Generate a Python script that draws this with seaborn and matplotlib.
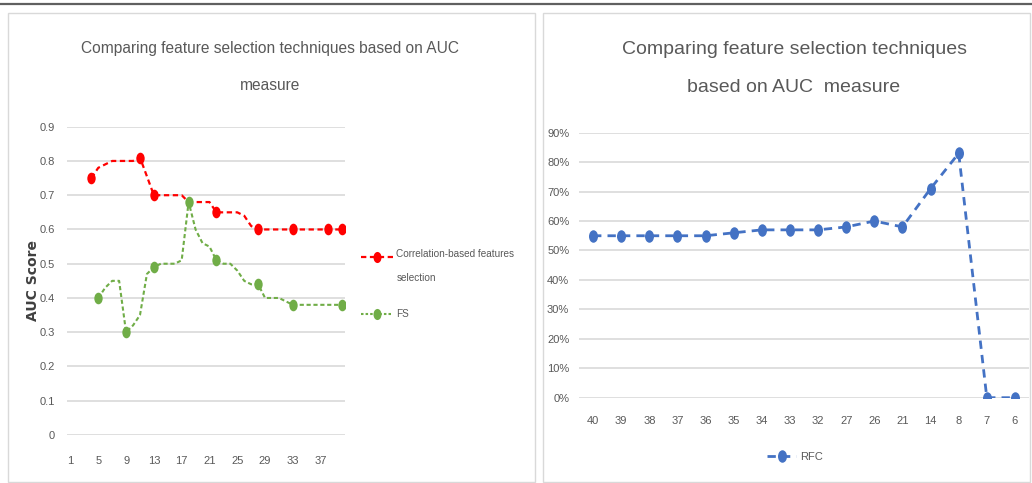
import matplotlib
matplotlib.use("Agg")
import matplotlib.pyplot as plt
from matplotlib.patches import Rectangle
from matplotlib.lines import Line2D
from matplotlib.path import Path
from matplotlib.legend_handler import HandlerLine2D
from matplotlib.ticker import PercentFormatter, FixedLocator
import numpy as np
import pandas as pd
import seaborn as sns

# ---------------- data ----------------
# Left chart: AUC per number of selected features (category axis 1..40)
left_categories = list(range(1, 41))
left_tick_labels = [str(c) for c in range(1, 41, 4)]

cfs_features = list(range(4, 41))
cfs_auc = [0.75, 0.78, 0.79, 0.80, 0.80, 0.80, 0.80, 0.81, 0.755, 0.70,
           0.70, 0.70, 0.70, 0.70, 0.68, 0.68, 0.68, 0.68, 0.65, 0.65,
           0.65, 0.65, 0.64, 0.61, 0.60, 0.60, 0.60, 0.60, 0.60, 0.60,
           0.60, 0.60, 0.60, 0.60, 0.60, 0.60, 0.60]
cfs_marked = [4, 11, 13, 22, 28, 33, 38, 40]

fs_features = list(range(5, 41))
fs_auc = [0.40, 0.43, 0.45, 0.45, 0.30, 0.32, 0.35, 0.47, 0.49, 0.50,
          0.50, 0.50, 0.51, 0.68, 0.60, 0.56, 0.55, 0.51, 0.50, 0.50,
          0.48, 0.45, 0.44, 0.44, 0.40, 0.40, 0.40, 0.39, 0.38, 0.38,
          0.38, 0.38, 0.38, 0.38, 0.38, 0.38]
fs_marked = [5, 9, 13, 18, 22, 28, 33, 40]

left_yticks = [0, 0.1, 0.2, 0.3, 0.4, 0.5, 0.6, 0.7, 0.8, 0.9]

# Right chart: RFC AUC by number of features kept
rfc_features = ["40", "39", "38", "37", "36", "35", "34", "33",
                "32", "27", "26", "21", "14", "8", "7", "6"]
rfc_auc = [0.55, 0.55, 0.55, 0.55, 0.55, 0.56, 0.57, 0.57,
           0.57, 0.58, 0.60, 0.58, 0.71, 0.83, 0.00, 0.00]
right_yticks = [0, 0.1, 0.2, 0.3, 0.4, 0.5, 0.6, 0.7, 0.8, 0.9]

# ---------------- style ----------------
sns.set_theme(style="white")
plt.rcParams["font.family"] = ["Liberation Sans Narrow", "Liberation Sans", "DejaVu Sans"]

TEXT = "#595959"
GRID = "#D9D9D9"
RED = "#FF0000"
GREEN = "#70AD47"
BLUE = "#4472C4"

W, H = 1032, 483
fig = plt.figure(figsize=(W / 100, H / 100), dpi=100)
fig.patch.set_facecolor("white")


def fx(x):
    return x / W


def fy(y):
    return 1 - y / H


class RaisedLineHandler(HandlerLine2D):
    """Legend handle drawn level with the first line of a wrapped label."""

    def __init__(self, raise_by=0.0, **kw):
        super().__init__(**kw)
        self.raise_by = raise_by

    def create_artists(self, legend, orig_handle, xdescent, ydescent,
                       width, height, fontsize, trans):
        return super().create_artists(legend, orig_handle, xdescent,
                                      ydescent - self.raise_by, width, height,
                                      fontsize, trans)


# tall ellipse marker (chart markers appear vertically elongated)
circ = Path.unit_circle()
ellipse = Path(circ.vertices * np.array([0.72, 1.0]), circ.codes)

# rule on top and the two chart frames
fig.add_artist(Line2D([0, 1], [fy(4), fy(4)], transform=fig.transFigure,
                      color="#606060", lw=1.6))
fig.add_artist(Rectangle((fx(8), fy(482)), fx(535) - fx(8), fy(13) - fy(482),
                         transform=fig.transFigure, fill=False,
                         edgecolor=GRID, lw=1.0))
fig.add_artist(Rectangle((fx(543), fy(482)), fx(1030) - fx(543), fy(13) - fy(482),
                         transform=fig.transFigure, fill=False,
                         edgecolor=GRID, lw=1.0))

# ---------------- left chart ----------------
axL = fig.add_axes([fx(67), fy(435), fx(345) - fx(67), fy(126.7) - fy(435)])

cfs_df = pd.DataFrame({"features": cfs_features, "auc": cfs_auc})
fs_df = pd.DataFrame({"features": fs_features, "auc": fs_auc})

sns.lineplot(data=cfs_df, x="features", y="auc", ax=axL, color=RED, lw=1.6,
             linestyle=(0, (2.4, 1.6)), zorder=3)
sns.lineplot(data=fs_df, x="features", y="auc", ax=axL, color=GREEN, lw=1.5,
             linestyle=(0, (2.0, 1.3)), zorder=3)
sns.scatterplot(data=cfs_df[cfs_df["features"].isin(cfs_marked)], x="features",
                y="auc", ax=axL, color=RED, marker=ellipse, s=70,
                edgecolor=RED, linewidth=0, zorder=4)
sns.scatterplot(data=fs_df[fs_df["features"].isin(fs_marked)], x="features",
                y="auc", ax=axL, color=GREEN, marker=ellipse, s=70,
                edgecolor=GREEN, linewidth=0, zorder=4)

axL.set_xlim(left_categories[0] - 0.5, left_categories[-1] + 0.5)
axL.set_ylim(0, 0.9)
axL.set_xticks([int(t) for t in left_tick_labels])
axL.set_xticklabels(left_tick_labels)
axL.set_yticks(left_yticks)
axL.set_yticklabels([("%g" % v) for v in left_yticks])
axL.yaxis.grid(True, color=GRID, lw=1.2)
axL.xaxis.grid(False)
for s in axL.spines.values():
    s.set_visible(False)
axL.tick_params(axis="both", length=0, colors=TEXT, labelsize=8)
axL.tick_params(axis="x", pad=15)
axL.tick_params(axis="y", pad=9)
axL.set_xlabel("")
axL.set_ylabel("AUC Score", fontsize=10, fontweight="bold", color="#404040",
               family=["DejaVu Sans"])
axL.yaxis.set_label_coords((40 - 67) / 278, 0.5)
axL.set_facecolor("white")

fig.text(fx(270), fy(48), "Comparing feature selection techniques based on AUC",
         ha="center", va="center", fontsize=11.2, color=TEXT)
fig.text(fx(270), fy(85), "measure", ha="center", va="center",
         fontsize=11.2, color=TEXT)

cfs_handle = Line2D([], [], color=RED, lw=1.6, linestyle=(0, (2.4, 1.6)),
                    marker=ellipse, markersize=8, markeredgewidth=0)
fs_handle = Line2D([], [], color=GREEN, lw=1.5, linestyle=(0, (1.2, 1.0)),
                   marker=ellipse, markersize=8, markeredgewidth=0)
legL = fig.legend([cfs_handle, fs_handle],
                  ["Correlation-based features\nselection", "FS"],
                  loc="upper left", bbox_to_anchor=(fx(361), fy(249)),
                  frameon=False, fontsize=7.2, handlelength=3.2,
                  handletextpad=0.35, labelspacing=2.6, borderaxespad=0,
                  borderpad=0,
                  handler_map={cfs_handle: RaisedLineHandler(raise_by=13.0)})
for t in legL.get_texts():
    t.set_color(TEXT)
    t.set_linespacing(2.75)

# ---------------- right chart ----------------
axR = fig.add_axes([fx(579), fy(397.7), fx(1029) - fx(579), fy(132.7) - fy(397.7)])

rfc_df = pd.DataFrame({"pos": np.arange(len(rfc_features)), "auc": rfc_auc})
sns.lineplot(data=rfc_df, x="pos", y="auc", ax=axR, color=BLUE, lw=2.0,
             linestyle=(0, (3.0, 2.2)), marker=ellipse, markersize=9,
             markeredgewidth=0, zorder=3)

axR.set_xlim(-0.5, len(rfc_features) - 0.5)
axR.set_ylim(0, 0.9)
axR.xaxis.set_major_locator(FixedLocator(list(range(len(rfc_features)))))
axR.set_xticklabels(rfc_features)
axR.set_yticks(right_yticks)
axR.yaxis.set_major_formatter(PercentFormatter(1.0, decimals=0))
axR.yaxis.grid(True, color=GRID, lw=1.2)
axR.xaxis.grid(False)
for s in axR.spines.values():
    s.set_visible(False)
axR.tick_params(axis="both", length=0, colors=TEXT, labelsize=8)
axR.tick_params(axis="x", pad=13)
axR.tick_params(axis="y", pad=7)
axR.set_xlabel("")
axR.set_ylabel("")
axR.set_facecolor("white")

fig.text(fx(794), fy(50), "Comparing feature selection techniques",
         ha="center", va="center", fontsize=14, color=TEXT)
fig.text(fx(794), fy(88), "based on AUC  measure", ha="center", va="center",
         fontsize=14, color=TEXT)

legR_handles = [Line2D([], [], color=BLUE, lw=2.0, linestyle=(0, (3.0, 2.2)),
                       marker=ellipse, markersize=9, markeredgewidth=0)]
legR = fig.legend(legR_handles, ["RFC"], loc="center",
                  bbox_to_anchor=(fx(795), fy(457)), frameon=False,
                  fontsize=8, handlelength=2.6, handletextpad=0.3)
for t in legR.get_texts():
    t.set_color(TEXT)

fig.savefig("out.png", dpi=100, facecolor="white")
